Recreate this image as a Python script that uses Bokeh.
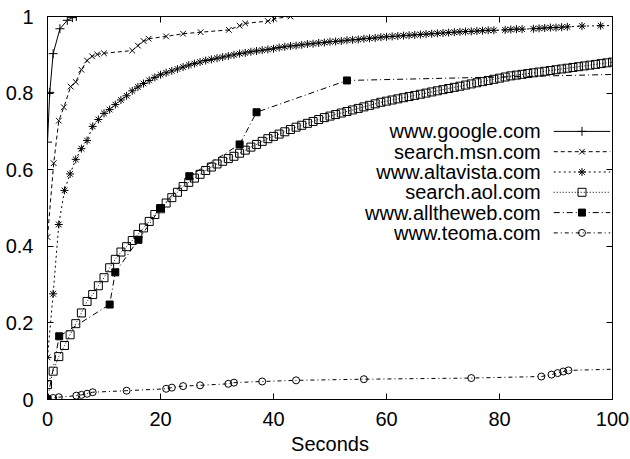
from bokeh.plotting import figure
from bokeh.models import (Range1d, LinearAxis, FixedTicker, NumeralTickFormatter,
                          Label, CustomJSTickFormatter)
from bokeh.embed import file_html
from bokeh.resources import INLINE

# ---------------- data ----------------
google_x = [0, 0.4, 1.0, 2.2, 3.5, 4.4, 5.1]
google_y = [0.672, 0.802, 0.903, 0.968, 0.990, 0.997, 1.0]

msn_x = [0, 1.1, 2.0, 2.9, 4.1, 5.0, 6.0, 7.0, 7.9, 8.8, 10.0, 15.0, 16.0, 17.0, 17.9,
         21.0, 24.0, 27.1, 32.1, 34.0, 35.0, 39.0, 40.1, 43.0]
msn_y = [0.424, 0.617, 0.728, 0.763, 0.817, 0.829, 0.861, 0.885, 0.896, 0.901, 0.904,
         0.911, 0.924, 0.936, 0.942, 0.948, 0.955, 0.959, 0.965, 0.976, 0.982, 0.988,
         0.994, 1.0]

alta_x = list(range(0, 80)) + [81, 82, 83, 84, 86, 87, 88, 89, 90, 91, 92, 94.6, 97.9, 104]
alta_y = [0.110, 0.276, 0.457, 0.546, 0.589, 0.627, 0.655, 0.676, 0.713, 0.731,
          0.747, 0.757, 0.770, 0.782, 0.793, 0.806, 0.816, 0.825, 0.833, 0.841,
          0.848, 0.853, 0.858, 0.863, 0.868, 0.873, 0.877, 0.881, 0.885, 0.888,
          0.891, 0.894, 0.897, 0.900, 0.903, 0.905, 0.908, 0.910, 0.912, 0.914,
          0.916, 0.919, 0.921, 0.923, 0.924, 0.926, 0.928, 0.929, 0.931, 0.932,
          0.934, 0.935, 0.936, 0.938, 0.939, 0.940, 0.942, 0.943, 0.944, 0.946,
          0.947, 0.948, 0.949, 0.950, 0.951, 0.952, 0.953, 0.954, 0.955, 0.956,
          0.957, 0.958, 0.959, 0.960, 0.961, 0.961, 0.962, 0.963, 0.964, 0.964,
          0.965, 0.966, 0.967, 0.967, 0.968, 0.969, 0.970, 0.971, 0.971, 0.972,
          0.973, 0.975, 0.976, 0.977]

aol_x = list(range(0, 101))
aol_y = [0.039, 0.074, 0.112, 0.141, 0.169, 0.198, 0.226, 0.256, 0.274, 0.297,
         0.318, 0.344, 0.366, 0.385, 0.399, 0.415, 0.431, 0.448, 0.465, 0.483,
         0.498, 0.513, 0.527, 0.541, 0.556, 0.567, 0.578, 0.588, 0.598, 0.607,
         0.615, 0.622, 0.629, 0.635, 0.643, 0.651, 0.659, 0.666, 0.674, 0.681,
         0.687, 0.693, 0.699, 0.705, 0.711, 0.716, 0.721, 0.726, 0.731, 0.736,
         0.740, 0.744, 0.748, 0.752, 0.756, 0.760, 0.764, 0.768, 0.772, 0.776,
         0.779, 0.782, 0.785, 0.788, 0.791, 0.794, 0.797, 0.800, 0.803, 0.806,
         0.809, 0.812, 0.815, 0.818, 0.821, 0.824, 0.827, 0.830, 0.833, 0.836,
         0.839, 0.842, 0.845, 0.847, 0.849, 0.851, 0.853, 0.855, 0.857, 0.859,
         0.861, 0.863, 0.865, 0.867, 0.869, 0.871, 0.873, 0.875, 0.877, 0.879,
         0.881]

atw_x = [0, 2.07, 11.0, 12.0, 16.1, 20.0, 25.1, 34.0, 37.0, 53.0, 110]
atw_y = [0.0, 0.165, 0.248, 0.332, 0.417, 0.500, 0.583, 0.666, 0.750, 0.833, 0.852]

teoma_x = [0, 1, 2, 5.1, 6, 7, 8, 14, 21, 22, 24, 27, 32, 33, 38, 44, 56, 75,
           87.4, 89.2, 90.3, 91.3, 92.2, 110]
teoma_y = [0.002, 0.004, 0.006, 0.010, 0.012, 0.015, 0.019, 0.023, 0.028, 0.031,
           0.035, 0.037, 0.041, 0.044, 0.047, 0.050, 0.053, 0.056, 0.060, 0.065,
           0.069, 0.073, 0.076, 0.083]

names = ["www.google.com", "search.msn.com", "www.altavista.com",
         "search.aol.com", "www.alltheweb.com", "www.teoma.com"]

x_ticks = [0, 20, 40, 60, 80, 100]
y_ticks = [0, 0.2, 0.4, 0.6, 0.8, 1]

FONT = "Liberation Sans"
FS = "20px"

p = figure(frame_width=565, frame_height=383,
           x_range=Range1d(0, 100), y_range=Range1d(0, 1),
           output_backend="svg", toolbar_location=None,
           min_border_left=47, min_border_right=18,
           min_border_top=16, min_border_bottom=60)
p.grid.visible = False
p.outline_line_color = "black"
p.outline_line_width = 1
p.background_fill_color = "white"
p.border_fill_color = "white"

def style_axis(ax, labels=True):
    ax.axis_line_color = "black"
    ax.major_tick_in = 6
    ax.major_tick_out = 0
    ax.minor_tick_line_color = None
    ax.major_tick_line_color = "black"
    if labels:
        ax.major_label_text_font = FONT
        ax.major_label_text_font_size = FS
        ax.major_label_text_color = "black"
    else:
        ax.formatter = CustomJSTickFormatter(code="return '';")
        ax.major_label_standoff = 0

p.xaxis.ticker = FixedTicker(ticks=x_ticks)
p.yaxis.ticker = FixedTicker(ticks=y_ticks)
p.yaxis.formatter = NumeralTickFormatter(format="0.[0]")
style_axis(p.xaxis[0])
style_axis(p.yaxis[0])
p.yaxis.major_label_standoff = 14
p.xaxis.major_label_standoff = 12
p.xaxis.axis_label = "Seconds"
p.xaxis.axis_label_text_font = FONT
p.xaxis.axis_label_text_font_size = FS
p.xaxis.axis_label_text_font_style = "normal"
p.xaxis.axis_label_text_color = "black"
p.xaxis.axis_label_standoff = 4

ax_r = LinearAxis(ticker=FixedTicker(ticks=y_ticks))
style_axis(ax_r, labels=False)
p.add_layout(ax_r, "right")
ax_t = LinearAxis(ticker=FixedTicker(ticks=x_ticks))
style_axis(ax_t, labels=False)
p.add_layout(ax_t, "above")

styles = [
    dict(dash="solid", marker="cross", size=9, fill=None),
    dict(dash="4 3", marker="x", size=8, fill=None),
    dict(dash="2 3", marker="asterisk", size=8, fill=None),
    dict(dash="1 2", marker="square", size=8, fill=None),
    dict(dash="6 3 1 3", marker="square", size=7, fill="black"),
    dict(dash="4 3 1 3", marker="circle", size=7, fill=None),
]
series = [(google_x, google_y), (msn_x, msn_y), (alta_x, alta_y),
          (aol_x, aol_y), (atw_x, atw_y), (teoma_x, teoma_y)]

for (xs, ys), st in zip(series, styles):
    p.line(xs, ys, line_color="black", line_width=1, line_dash=st["dash"])
    p.scatter(xs, ys, marker=st["marker"], size=st["size"], line_color="black",
              line_width=1, fill_color=st["fill"])

# legend (gnuplot style: text, then sample)
leg_text_x = 87.3
leg_x0, leg_x1, leg_xm = 89.6, 99.6, 94.6
leg_y = [0.700, 0.647, 0.594, 0.541, 0.488, 0.435]
for name, st, ly in zip(names, styles, leg_y):
    p.add_layout(Label(x=leg_text_x, y=ly, text=name, text_align="right",
                       text_baseline="middle", text_font=FONT,
                       text_font_size=FS, text_color="black"))
    p.line([leg_x0, leg_x1], [ly, ly], line_color="black", line_width=1,
           line_dash=st["dash"])
    p.scatter([leg_xm], [ly], marker=st["marker"], size=st["size"],
              line_color="black", line_width=1, fill_color=st["fill"])

open("out.html", "w").write(file_html(p, INLINE))
